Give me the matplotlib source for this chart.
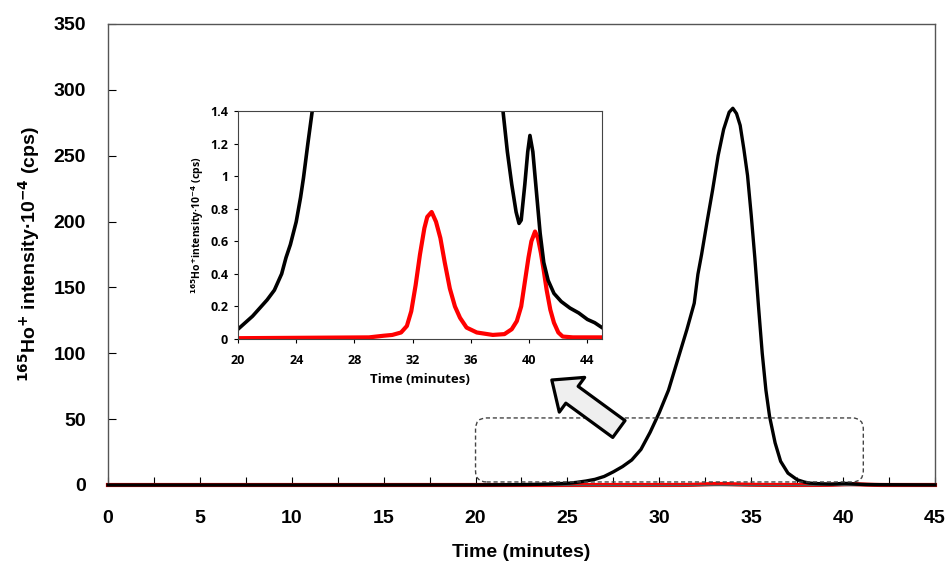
import numpy as np
import matplotlib
matplotlib.use("Agg")
import matplotlib.pyplot as plt
from matplotlib.patches import FancyBboxPatch, FancyArrowPatch

plt.rcParams["font.family"] = ["Liberation Sans", "DejaVu Sans"]
plt.rcParams["mathtext.default"] = "bf"

# black trace: 165Ho+ intensity (x1e4 cps) vs time (min)
t_black = [0, 10, 20, 20.5, 21, 21.5, 22, 22.5, 23, 23.3, 23.6, 24, 24.3, 24.5, 24.8,
           25.1, 25.5, 26, 26.5, 27, 27.5, 28, 28.5, 29, 29.5, 30, 30.5, 31, 31.5,
           31.9, 32.1, 32.3, 32.6, 32.9, 33.2, 33.5, 33.8, 34.0, 34.2, 34.4, 34.6,
           34.8, 35.0, 35.2, 35.4, 35.6, 35.8, 36.0, 36.3, 36.6, 37.0, 37.5, 37.9,
           38.2, 38.5, 38.8, 39.1, 39.3, 39.45, 39.7, 39.9, 40.05, 40.25, 40.5, 40.75,
           41.0, 41.3, 41.7, 42.2, 42.8, 43.4, 44.0, 44.5, 45.0]
y_black = [0.0, 0.0, 0.06, 0.1, 0.14, 0.19, 0.24, 0.3, 0.4, 0.5, 0.58, 0.72, 0.87, 0.99, 1.2,
           1.4, 2.0, 3.0, 4.3, 6.5, 10.0, 14.0, 19.0, 27.0, 40.0, 55.0, 72.0, 95.0, 118.0,
           138.0, 160.0, 175.0, 200.0, 224.0, 250.0, 270.0, 283.0, 286.0, 282.0, 273.0, 255.0,
           235.0, 205.0, 172.0, 135.0, 100.0, 72.0, 52.0, 32.0, 18.0, 9.0, 4.0, 2.2,
           1.4, 1.15, 0.95, 0.78, 0.71, 0.73, 0.95, 1.15, 1.25, 1.15, 0.9, 0.65,
           0.47, 0.36, 0.28, 0.23, 0.19, 0.16, 0.12, 0.1, 0.07]

# red trace
t_red = [0, 10, 20, 29.0, 30.0, 30.6, 31.2, 31.6, 31.9, 32.2, 32.5, 32.8, 33.0, 33.3,
         33.6, 33.9, 34.2, 34.55, 34.9, 35.25, 35.7, 36.4, 37.5, 38.3, 38.8, 39.15,
         39.45, 39.7, 39.95, 40.15, 40.4, 40.6, 40.8, 41.0, 41.2, 41.45, 41.7, 42.0,
         42.3, 43.0, 45.0]
y_red = [0.0, 0.0, 0.005, 0.01, 0.02, 0.025, 0.04, 0.08, 0.17, 0.33, 0.52, 0.68, 0.75, 0.78,
         0.72, 0.62, 0.47, 0.31, 0.2, 0.13, 0.07, 0.04, 0.025, 0.03, 0.06, 0.11,
         0.2, 0.35, 0.5, 0.6, 0.66, 0.62, 0.53, 0.42, 0.3, 0.18, 0.1, 0.04,
         0.015, 0.01, 0.01]

main_xticks = np.arange(0, 45.1, 2.5)
main_yticks = np.arange(0, 351, 50)
inset_xticks = np.arange(20, 45, 4)
inset_yticks = [0, 0.2, 0.4, 0.6, 0.8, 1, 1.2, 1.4]

fig = plt.figure(figsize=(9.53, 5.65), dpi=100)
ax = fig.add_axes([0.1133, 0.1416, 0.8678, 0.816])

ax.plot(t_red, y_red, color="#ff0000", lw=3.0, zorder=2, clip_on=False)
ax.plot(t_black, y_black, color="black", lw=2.4, zorder=3, clip_on=False)
ax.set_xlim(0, 45)
ax.set_ylim(0, 350)
ax.set_xticks(main_xticks)
ax.set_xticklabels([f"{v:g}" if v % 5 == 0 else "" for v in main_xticks])
ax.set_yticks(main_yticks)
ax.tick_params(direction="in", length=5.5, width=0.8, labelsize=14, colors="black")
ax.tick_params(axis="x", pad=18)
ax.tick_params(axis="y", pad=16)
for lbl in ax.get_xticklabels() + ax.get_yticklabels():
    lbl.set_fontweight("bold")
for s in ax.spines.values():
    s.set_color("#555555")
    s.set_linewidth(1.0)
ax.set_xlabel("Time (minutes)", fontsize=14, fontweight="bold", labelpad=12)
ax.set_ylabel(r"$^{165}$Ho$^{+}$ intensity·10$^{-4}$ (cps)", fontsize=14,
              fontweight="bold", labelpad=8)

# dashed rounded box marking the zoomed region
box = FancyBboxPatch((20.0, 2.3), 21.1, 48.6,
                     boxstyle="round,pad=0,rounding_size=0.6",
                     mutation_aspect=13.96, fill=False, ls=(0, (3, 2)),
                     lw=1.0, ec="#444444", transform=ax.transData, zorder=4)
ax.add_patch(box)

# arrow pointing to inset
arr = FancyArrowPatch((27.8, 42.5), (24.15, 79.7),
                      arrowstyle="simple,head_length=18,head_width=31,tail_width=15",
                      mutation_scale=1, shrinkA=0, shrinkB=0,
                      fc="#efefef", ec="black", lw=2.3, zorder=5)
ax.add_patch(arr)

# inset
fam = ["Open Sans", "DejaVu Sans"]
ins = fig.add_axes([0.2497, 0.40, 0.382, 0.4035])
ins.plot(t_red, y_red, color="#ff0000", lw=3.0)
ins.plot(t_black, y_black, color="black", lw=2.6)
ins.set_xlim(20, 45)
ins.set_ylim(0, 1.4)
ins.set_xticks(inset_xticks)
ins.set_yticks(inset_yticks)
ins.set_yticklabels([f"{v:g}" for v in inset_yticks])
ins.tick_params(direction="out", length=3, width=0.8, labelsize=9)
ins.tick_params(axis="x", pad=8)
ins.tick_params(axis="y", pad=4)
for lbl in ins.get_xticklabels() + ins.get_yticklabels():
    lbl.set_fontweight("bold")
    lbl.set_family(fam)
for s in ins.spines.values():
    s.set_color("#444444")
    s.set_linewidth(0.8)
ins.set_xlabel("Time (minutes)", fontsize=9.5, fontweight="bold", family=fam, labelpad=4)
ins.set_ylabel(r"$^{165}$Ho$^{+}$intensity·10$^{-4}$ (cps)", fontsize=7.5,
               fontweight="bold", family=fam, labelpad=3)

fig.savefig("out.png", dpi=100)
